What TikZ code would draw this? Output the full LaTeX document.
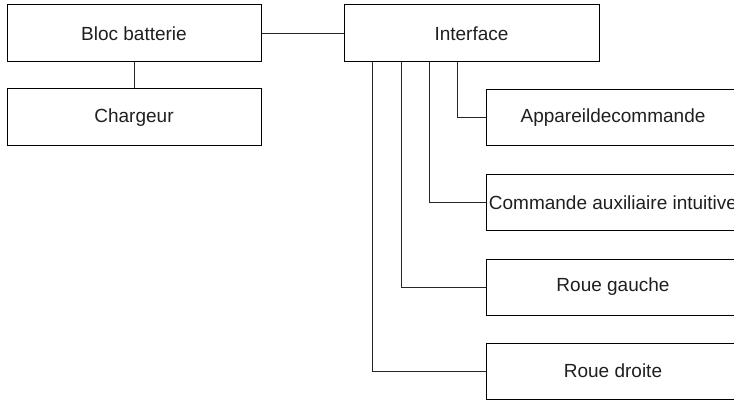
\documentclass[tikz,border=0pt]{standalone}
\usepackage{fontspec}
\setmainfont{Liberation Sans}
\begin{document}
\begin{tikzpicture}[x=1pt,y=-1pt,
  blk/.style={draw=black,line width=1pt,minimum width=254pt,minimum height=56pt,inner sep=0pt,
    font=\fontsize{19}{23}\selectfont,text=black!88},
  link/.style={draw=black!85,line width=1pt}]
\useasboundingbox (0,0) rectangle (734,401);
\node[blk,minimum height=57pt] (bloc) at (134,33.5) {Bloc batterie};
\node[blk,minimum height=57pt] (charg) at (134,117.5) {Chargeur};
\node[blk,minimum width=255pt,minimum height=57pt] (iface) at (471.5,33.5) {Interface};
\node[blk] (app) at (613,117.5) {Appareildecommande};
\node[blk] (cmd) at (613,202.5) {Commande auxiliaire intuitive};
\node[blk] (rg) at (613,287) {Roue gauche};
\node[blk] (rd) at (613,371) {Roue droite};
\draw[link] (bloc.east) -- (iface.west);
\draw[link] (bloc.south) -- (charg.north);
\draw[link] ([xshift=114pt]iface.south west) |- (app.west);
\draw[link] ([xshift=86pt]iface.south west) |- (cmd.west);
\draw[link] ([xshift=58pt]iface.south west) |- (rg.west);
\draw[link] ([xshift=29pt]iface.south west) |- (rd.west);
\end{tikzpicture}
\end{document}
